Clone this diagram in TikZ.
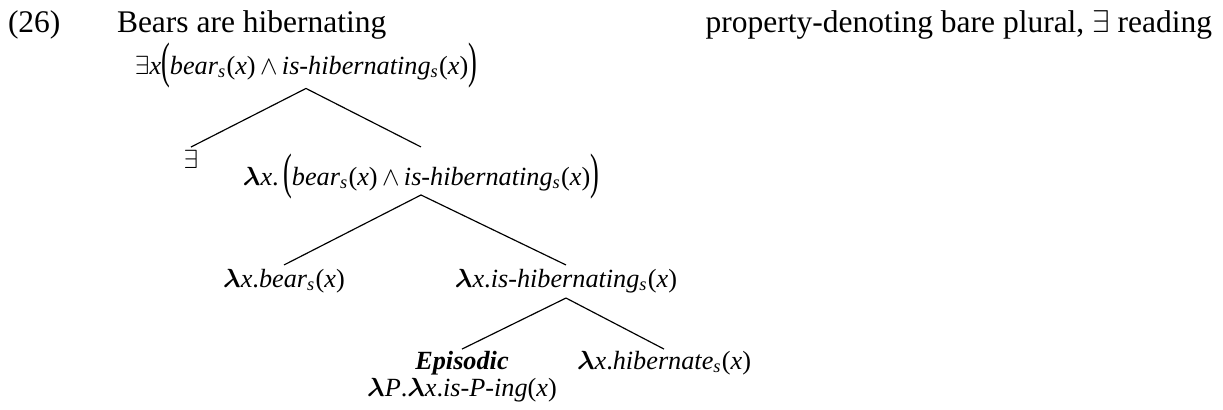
\documentclass[tikz,border=0pt]{standalone}
\usepackage{amsmath}
\usepackage{graphicx}
\usepackage{fontspec}
\setmainfont{Liberation Serif}
\newcommand\lam{\ensuremath{\boldsymbol{\lambda}}}
\newcommand\sbs{\ensuremath{_{\text{\itshape s}}}}
\newcommand\ix{\textit{x}}
\newcommand\bigL{\raisebox{-1.2pt}{\scalebox{1}[1.9]{(}}}
\newcommand\bigR{\raisebox{-1.2pt}{\scalebox{1}[1.9]{)}}}
\begin{document}
\begin{tikzpicture}[x=0.381pt,y=-0.381pt,
  lbl/.style={inner sep=0pt,outer sep=0pt,anchor=base,font=\fontsize{12}{14}\selectfont},
  tn/.style={inner sep=0pt,outer sep=0pt,anchor=base,font=\fontsize{10}{12}\selectfont},
  edge/.style={draw,line width=0.45pt}]
\useasboundingbox (0,0) rectangle (1223,409);
\node[lbl,anchor=base west] (num) at (8,32) {(26)};
\node[lbl,anchor=base west] (sent) at (117,32) {Bears are hibernating};
\node[lbl,anchor=base east] (desc) at (1212,32) {property-denoting bare plural, $\exists$ reading};

\node[tn,text depth=5.5pt] (root) at (306,74)
  {$\exists$\ix\bigL\textit{bear}\sbs(\ix)\,$\wedge$\,\textit{is-hibernating}\sbs(\ix)\bigR};
\node[tn,text height=8pt] (ex) at (191,168) {$\exists$};
\node[tn,text height=14.5pt,text depth=3.8pt] (lam) at (421,185)
  {\lam\ix.\,\bigL\textit{bear}\sbs(\ix)\,$\wedge$\,\textit{is-hibernating}\sbs(\ix)\bigR};
\node[tn,text height=8.4pt] (bear) at (284,287) {\lam\ix.\textit{bear}\sbs(\ix)};
\node[tn,text height=8.4pt,text depth=4.2pt] (hib) at (566,287) {\lam\ix.\textit{is-hibernating}\sbs(\ix)};
\node[tn,text height=7.6pt] (epi) at (462,369) {\textbf{\textit{Episodic}}};
\node[tn] (epif) at (462,396) {\lam\textit{P}.\lam\ix.\textit{is-P-ing}(\ix)};
\node[tn,text height=7.6pt] (hibs) at (664,369) {\lam\ix.\textit{hibernate}\sbs(\ix)};

\draw[edge] (ex.north) -- (root.south) -- (lam.north);
\draw[edge] (bear.north) -- (lam.south) -- (hib.north);
\draw[edge] (epi.north) -- (hib.south) -- (hibs.north);
\end{tikzpicture}
\end{document}
